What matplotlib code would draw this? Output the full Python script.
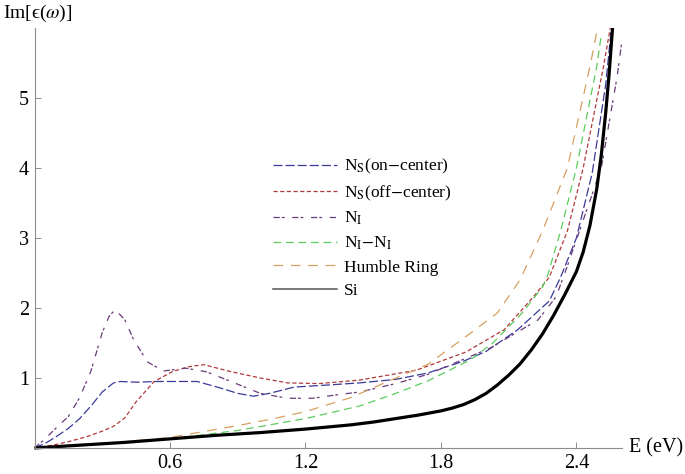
import numpy as np
import matplotlib
matplotlib.use("Agg")
import matplotlib.pyplot as plt
from matplotlib.lines import Line2D

plt.rcParams['font.family'] = ['Liberation Serif', 'DejaVu Serif']
plt.rcParams['mathtext.fontset'] = 'stix'
plt.rcParams['lines.scale_dashes'] = False

# --- data ---
e_si = [0, 0.2, 0.4, 0.6, 0.8, 1.0, 1.2, 1.4, 1.5, 1.6, 1.7, 1.8, 1.85, 1.9, 1.95,
        2.0, 2.05, 2.1, 2.15, 2.2, 2.25, 2.3, 2.35, 2.4, 2.43, 2.46, 2.49, 2.51,
        2.53, 2.545, 2.56]
v_si = [0, 0.04, 0.08, 0.13, 0.18, 0.22, 0.27, 0.33, 0.37, 0.42, 0.47, 0.53, 0.57,
        0.62, 0.69, 0.78, 0.9, 1.04, 1.2, 1.4, 1.63, 1.9, 2.2, 2.52, 2.8, 3.18,
        3.7, 4.18, 4.8, 5.35, 6.0]

e_on = [0, 0.05, 0.1, 0.15, 0.2, 0.25, 0.3, 0.35, 0.38, 0.45, 0.55, 0.65, 0.72, 0.82,
        0.9, 0.97, 1.04, 1.15, 1.3, 1.44, 1.6, 1.74, 1.9, 2.0, 2.14, 2.28, 2.33, 2.4,
        2.47, 2.53, 2.555]
v_on = [0, 0.07, 0.17, 0.28, 0.42, 0.6, 0.8, 0.93, 0.95, 0.94, 0.95, 0.95, 0.95, 0.86,
        0.78, 0.74, 0.78, 0.87, 0.9, 0.93, 0.98, 1.07, 1.24, 1.38, 1.69, 2.1, 2.44, 3.0,
        3.93, 5.2, 6.0]

e_off = [0, 0.08, 0.15, 0.23, 0.3, 0.35, 0.4, 0.45, 0.53, 0.61, 0.68, 0.75, 0.87, 1.0,
         1.12, 1.26, 1.44, 1.69, 1.91, 2.08, 2.21, 2.28, 2.36, 2.43, 2.52, 2.55]
v_off = [0, 0.04, 0.09, 0.16, 0.24, 0.31, 0.43, 0.66, 0.95, 1.09, 1.16, 1.19, 1.09, 1.0,
         0.93, 0.92, 0.97, 1.11, 1.37, 1.69, 2.16, 2.44, 3.1, 4.0, 5.45, 6.0]

e_ni = [0, 0.05, 0.1, 0.15, 0.2, 0.25, 0.3, 0.33, 0.355, 0.38, 0.4, 0.44, 0.5, 0.57,
        0.67, 0.76, 0.87, 1.0, 1.12, 1.23, 1.34, 1.44, 1.6, 1.74, 2.02, 2.23, 2.31,
        2.36, 2.51, 2.58, 2.6]
v_ni = [0, 0.14, 0.3, 0.45, 0.72, 1.1, 1.65, 1.88, 1.97, 1.9, 1.83, 1.54, 1.23, 1.1,
        1.14, 1.09, 0.95, 0.78, 0.71, 0.71, 0.76, 0.8, 0.92, 1.05, 1.43, 1.83, 2.16,
        2.6, 4.0, 5.3, 5.78]

e_nini = [0, 0.3, 0.6, 0.9, 1.2, 1.44, 1.6, 1.75, 1.93, 2.03, 2.16, 2.25, 2.27, 2.33,
          2.4, 2.49, 2.51]
v_nini = [0, 0.05, 0.13, 0.25, 0.42, 0.6, 0.78, 0.97, 1.26, 1.5, 1.93, 2.3, 2.44, 3.1,
          4.0, 5.45, 5.9]

e_hr = [0, 0.3, 0.6, 0.9, 1.06, 1.2, 1.4, 1.55, 1.74, 1.91, 2.05, 2.15, 2.25, 2.36,
        2.46, 2.49]
v_hr = [0, 0.06, 0.15, 0.32, 0.42, 0.52, 0.72, 0.93, 1.19, 1.59, 1.93, 2.4, 3.1, 4.0,
        5.45, 5.94]

series = [
    (e_on, v_on, r'N$_{\mathrm{S}}$(on$-$center)', '#3a3a9a', (0, (6.5, 2.2))),
    (e_off, v_off, r'N$_{\mathrm{S}}$(off$-$center)', '#b03a3a', (0, (3, 1.8))),
    (e_ni, v_ni, r'N$_{\mathrm{I}}$', '#6a3a78', (0, (4.5, 1.5, 2, 5.5))),
    (e_nini, v_nini, r'N$_{\mathrm{I}}$$-$N$_{\mathrm{I}}$', '#5ccc5c', (0, (5.5, 3.5))),
    (e_hr, v_hr, 'Humble Ring', '#d8a060', (0, (7, 5.5))),
]

fig = plt.figure(figsize=(6.85, 4.74), dpi=100)
ax = fig.add_axes([0.0504, 0.0549, 0.857, 0.886])

handles = []
for e, v, lab, col, ls in series:
    ax.plot(e, v, color=col, lw=0.9, linestyle=ls, clip_on=False)
    handles.append(Line2D([], [], color=col, lw=0.9, linestyle=ls, label=lab))

ax.plot(e_si, v_si, color='black', lw=2.3, solid_capstyle='butt',
        solid_joinstyle='round', clip_on=False)
handles.append(Line2D([], [], color='#555555', lw=1.1, label='Si'))

ax.set_xlim(0, 2.6)
ax.set_ylim(0, 6)
ax.set_xticks([0.6, 1.2, 1.8, 2.4])
ax.set_xticklabels(['0.6', '1.2', '1.8', '2.4'])
ax.set_yticks([1, 2, 3, 4, 5])
for s in ['top', 'right']:
    ax.spines[s].set_visible(False)
for s in ['left', 'bottom']:
    ax.spines[s].set_color('#8c8c8c')
    ax.spines[s].set_linewidth(0.8)
ax.tick_params(direction='in', length=4, width=0.7, color='#8c8c8c',
               labelsize=14.5, pad=4)

ax.text(1.012, 0.0, 'E (eV)', transform=ax.transAxes, fontsize=14.5,
        ha='left', va='center')
fig.text(0.004, 0.972, 'Im[\u03f5(' + r'$\omega$' + ')]', fontsize=14,
         ha='left', va='center')

leg = ax.legend(handles=handles, loc='upper left',
                bbox_to_anchor=(273 / 685, 1 - 157 / 474),
                bbox_transform=fig.transFigure, frameon=False,
                fontsize=12.5, handlelength=3.7, handletextpad=0.4,
                labelspacing=0.42, borderpad=0, borderaxespad=0)

fig.savefig('out.png', dpi=100)
